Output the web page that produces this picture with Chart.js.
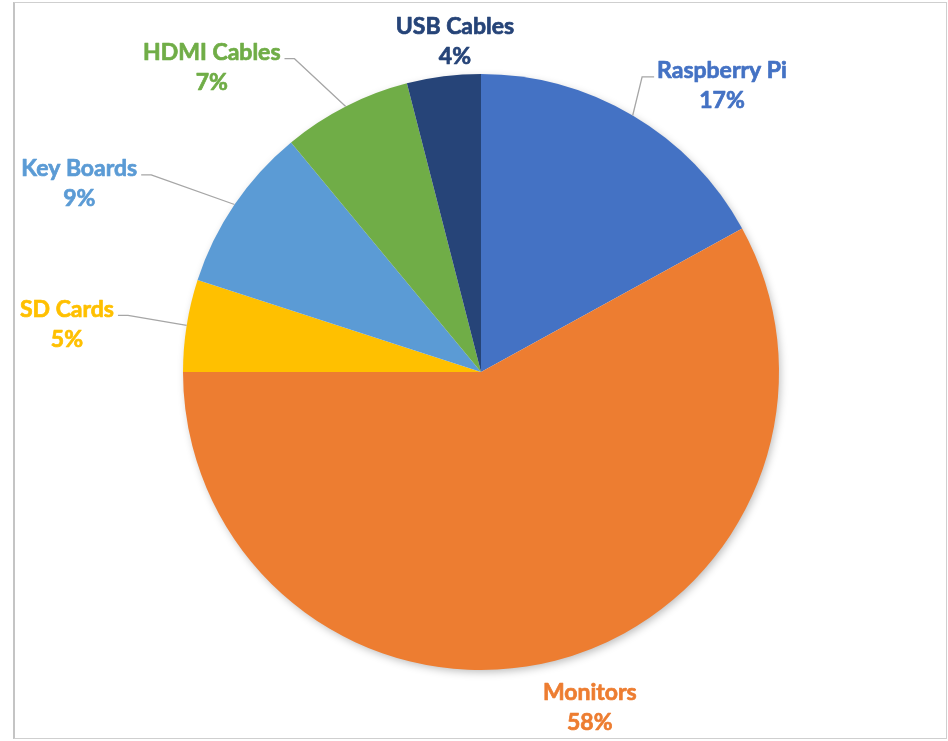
<!DOCTYPE html>
<html>
<head>
<meta charset="utf-8">
<script src="https://cdn.jsdelivr.net/npm/chart.js@4.4.0/dist/chart.umd.min.js"></script>
<style>
  html, body { margin: 0; padding: 0; background: #fff; }
  #wrap { position: relative; width: 948px; height: 741px; }
  #frame {
    position: absolute; left: 13px; top: 2px; width: 931px; height: 735px;
    border: 1px solid #cfcfcf; border-left: 2px solid #c4c4c4;
  }
  canvas { position: absolute; left: 0; top: 0; }
</style>
</head>
<body>
<div id="wrap">
  <div id="frame"></div>
  <canvas id="chart" width="948" height="741"></canvas>
</div>
<script>
// Data
const categories = ['Raspberry Pi', 'Monitors', 'SD Cards', 'Key Boards', 'HDMI Cables', 'USB Cables'];
const shares = [17, 58, 5, 9, 7, 4];
const colors = ['#4472C4', '#ED7D31', '#FFC000', '#5B9BD5', '#70AD47', '#264478'];

// Label placement: angle shift (deg) from slice middle, distance as fraction of radius
const labelShift = [9.4, -3.6, -2.3, -9, -14.4, 2.7];
const labelDist  = [1.258, 1.181, 1.399, 1.49, 1.366, 1.114];
const leaderLines = [true, false, true, true, true, false];

const LABEL_FONT = 'bold 23px Lato, "Open Sans", sans-serif';
const LINE_GAP = 30;

// soft drop shadow under the whole pie
const pieShadow = {
  id: 'pieShadow',
  beforeDatasetsDraw(chart) {
    const arc = chart.getDatasetMeta(0).data[0];
    if (!arc) return;
    const { x, y, outerRadius } = arc.getProps(['x', 'y', 'outerRadius'], true);
    const c = chart.ctx;
    c.save();
    c.shadowColor = 'rgba(0,0,0,0.28)';
    c.shadowBlur = 9;
    c.shadowOffsetX = 2;
    c.shadowOffsetY = 3;
    c.fillStyle = '#fff';
    c.beginPath();
    c.arc(x, y, outerRadius - 1, 0, Math.PI * 2);
    c.fill();
    c.restore();
  }
};

// outside labels with leader lines
const outsideLabels = {
  id: 'outsideLabels',
  afterDatasetsDraw(chart) {
    const c = chart.ctx;
    const meta = chart.getDatasetMeta(0);
    c.save();
    c.font = LABEL_FONT;
    c.textAlign = 'center';
    c.textBaseline = 'middle';
    meta.data.forEach((arc, i) => {
      const p = arc.getProps(['x', 'y', 'startAngle', 'endAngle', 'outerRadius'], true);
      const mid = (p.startAngle + p.endAngle) / 2;
      const a = mid + labelShift[i] * Math.PI / 180;
      const lx = p.x + Math.cos(a) * p.outerRadius * labelDist[i];
      const ly = p.y + Math.sin(a) * p.outerRadius * labelDist[i] + 1;
      const line1 = categories[i];
      const line2 = shares[i] + '%';
      const y1 = ly - LINE_GAP / 2;
      const y2 = ly + LINE_GAP / 2;

      if (leaderLines[i]) {
        const w = c.measureText(line1).width;
        const ex = p.x + Math.cos(mid) * p.outerRadius;
        const ey = p.y + Math.sin(mid) * p.outerRadius;
        const left = lx < p.x;
        const sx = left ? lx + w / 2 + 4 : lx - w / 2 - 3;
        const hx = left ? sx + 10 : sx - 12;
        const hy = y1 + 6;
        c.strokeStyle = '#a6a6a6';
        c.lineWidth = 1.3;
        c.beginPath();
        c.moveTo(ex, ey);
        c.lineTo(hx, hy);
        c.lineTo(sx, hy);
        c.stroke();
      }

      // thin same-colour stroke makes the bold text a bit heavier
      c.fillStyle = colors[i];
      c.strokeStyle = colors[i];
      c.lineWidth = 0.7;
      c.lineJoin = 'round';
      c.fillText(line1, lx, y1);
      c.strokeText(line1, lx, y1);
      c.fillText(line2, lx, y2);
      c.strokeText(line2, lx, y2);
    });
    c.restore();
  }
};

const chart = new Chart(document.getElementById('chart'), {
  type: 'pie',
  data: {
    labels: categories,
    datasets: [{
      data: shares,
      backgroundColor: colors,
      borderWidth: 0
    }]
  },
  options: {
    responsive: false,
    animation: false,
    layout: { padding: { left: 183, right: 169, top: 74, bottom: 71 } },
    plugins: {
      legend: { display: false },
      tooltip: { enabled: false }
    }
  },
  plugins: [pieShadow, outsideLabels]
});
</script>
</body>
</html>
